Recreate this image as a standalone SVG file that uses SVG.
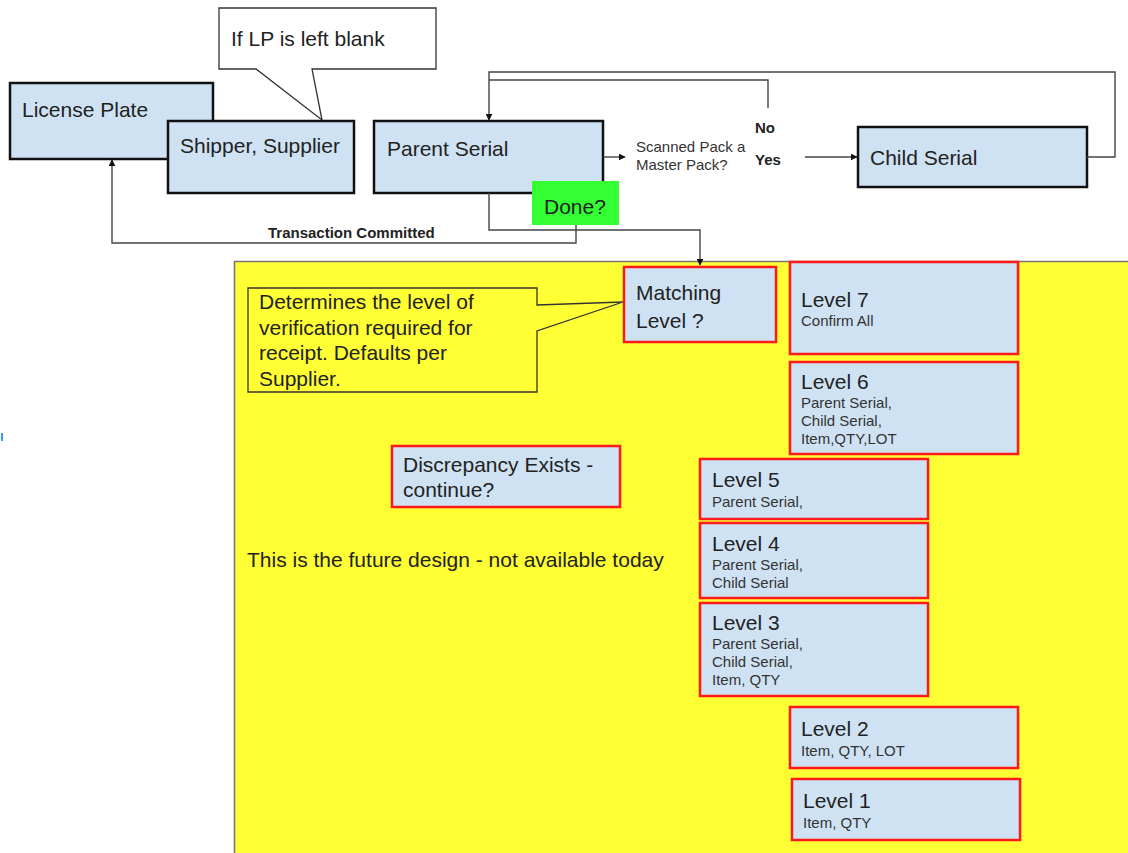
<svg xmlns="http://www.w3.org/2000/svg" width="1128" height="853" viewBox="0 0 1128 853">
<style>
text{font-family:"Liberation Sans",Arial,Helvetica,sans-serif;fill:#222}
.big{font-size:21px}
.sub{font-size:15px;fill:#333}
.bold{font-size:15px;font-weight:bold}
.q{font-size:15px;fill:#333}
.blk{fill:#cfe2f3;stroke:#111;stroke-width:2.5}
.red{fill:#cfe2f3;stroke:#ff1a1a;stroke-width:2.5}
.con{fill:none;stroke:#444;stroke-width:1.4}
.call{stroke:#333;stroke-width:1.3}
</style>
<defs>
<marker id="arr" viewBox="0 0 10 10" refX="9" refY="5" markerWidth="7" markerHeight="7" markerUnits="userSpaceOnUse" orient="auto">
<path d="M0,0 L10,5 L0,10 Z" fill="#111"/>
</marker>
</defs>
<rect width="1128" height="853" fill="#fff"/>
<g id="future-region">
<rect x="234" y="261" width="900" height="600" fill="#ffff33"/>
<path d="M234.5,853 V261.5 H1128" fill="none" stroke="#777" stroke-width="1.6"/>
</g>
<rect x="1" y="433" width="2" height="8" fill="#3399ff"/>
<g id="lp-callout">
<path class="call" d="M219,8 H436 V69 H312 L322,120 L256,69 H219 Z" fill="#fff"/>
<text class="big" x="231" y="46">If LP is left blank</text>
</g>
<g id="license-plate">
<rect class="blk" x="10" y="83" width="203" height="76"/>
<text class="big" x="22" y="117">License Plate</text>
</g>
<g id="shipper-supplier">
<rect class="blk" x="168" y="121" width="186" height="72"/>
<text class="big" x="180" y="153">Shipper, Supplier</text>
</g>
<g id="parent-serial">
<rect class="blk" x="374" y="121" width="229" height="72"/>
<text class="big" x="387" y="156">Parent Serial</text>
</g>
<g id="done">
<rect x="532" y="181" width="87" height="44" fill="#3f3"/>
<text class="big" x="544" y="214">Done?</text>
</g>
<g id="master-pack-question">
<text class="q" x="636" y="152">Scanned Pack a</text>
<text class="q" x="636" y="170">Master Pack?</text>
<text class="bold" x="755" y="133">No</text>
<text class="bold" x="755" y="165">Yes</text>
</g>
<g id="child-serial">
<rect class="blk" x="858" y="127" width="229" height="60"/>
<text class="big" x="870" y="165">Child Serial</text>
</g>
<g id="connectors">
<line class="con" x1="603" y1="157" x2="625" y2="157" marker-end="url(#arr)"/>
<line class="con" x1="805" y1="157" x2="857" y2="157" marker-end="url(#arr)"/>
<polyline class="con" points="1087,157 1115,157 1115,72 489,72 489,120" marker-end="url(#arr)"/>
<polyline class="con" points="768,108 768,80 489,80"/>
<polyline class="con" points="576,225 576,243 112,243 112,160" marker-end="url(#arr)"/>
<polyline class="con" points="489,193 489,230 700,230 700,265" marker-end="url(#arr)"/>
<text style="font-size:15px;font-weight:bold;fill:#222" x="268" y="238">Transaction Committed</text>
</g>
<g id="determines-callout">
<path class="call" d="M248,288 H537 V305 L623,302 L537,331 V392 H248 Z" fill="#ffff33"/>
<text class="big" x="259" y="309">Determines the level of</text>
<text class="big" x="259" y="335">verification required for</text>
<text class="big" x="259" y="360">receipt. Defaults per</text>
<text class="big" x="259" y="386">Supplier.</text>
</g>
<g id="matching-level">
<rect class="red" x="624" y="267" width="152" height="75"/>
<text class="big" x="636" y="300">Matching</text>
<text class="big" x="636" y="328">Level ?</text>
</g>
<g id="discrepancy">
<rect class="red" x="392" y="446" width="228" height="61"/>
<text class="big" x="403" y="472">Discrepancy Exists -</text>
<text class="big" x="403" y="497">continue?</text>
</g>
<g id="future-note">
<text class="big" x="247" y="567">This is the future design - not available today</text>
</g>
<g id="level-7">
<rect class="red" x="790" y="262" width="228" height="92"/>
<text class="big" x="801" y="307">Level 7</text>
<text class="sub" x="801" y="326">Confirm All</text>
</g>
<g id="level-6">
<rect class="red" x="790" y="362" width="228" height="92"/>
<text class="big" x="801" y="389">Level 6</text>
<text class="sub" x="801" y="408">Parent Serial,</text>
<text class="sub" x="801" y="426">Child Serial,</text>
<text class="sub" x="801" y="444">Item,QTY,LOT</text>
</g>
<g id="level-5">
<rect class="red" x="700" y="459" width="228" height="60"/>
<text class="big" x="712" y="487">Level 5</text>
<text class="sub" x="712" y="507">Parent Serial,</text>
</g>
<g id="level-4">
<rect class="red" x="700" y="523" width="228" height="75"/>
<text class="big" x="712" y="551">Level 4</text>
<text class="sub" x="712" y="570">Parent Serial,</text>
<text class="sub" x="712" y="588">Child Serial</text>
</g>
<g id="level-3">
<rect class="red" x="700" y="603" width="228" height="93"/>
<text class="big" x="712" y="630">Level 3</text>
<text class="sub" x="712" y="649">Parent Serial,</text>
<text class="sub" x="712" y="667">Child Serial,</text>
<text class="sub" x="712" y="685">Item, QTY</text>
</g>
<g id="level-2">
<rect class="red" x="790" y="707" width="228" height="61"/>
<text class="big" x="801" y="736">Level 2</text>
<text class="sub" x="801" y="756">Item, QTY, LOT</text>
</g>
<g id="level-1">
<rect class="red" x="792" y="779" width="228" height="61"/>
<text class="big" x="803" y="808">Level 1</text>
<text class="sub" x="803" y="828">Item, QTY</text>
</g>
</svg>
